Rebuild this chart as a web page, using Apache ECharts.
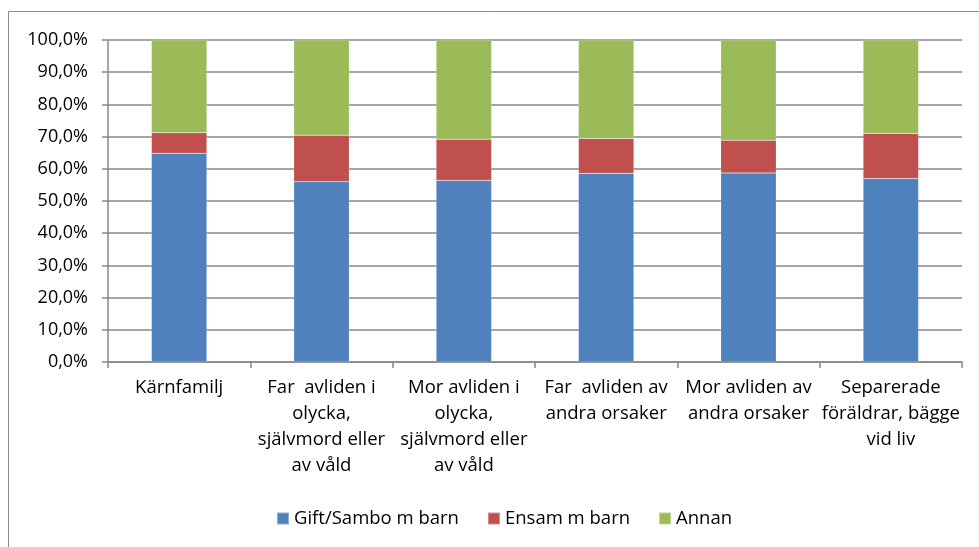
<!DOCTYPE html>
<html>
<head>
<meta charset="utf-8">
<script src="https://cdn.jsdelivr.net/npm/echarts@6/dist/echarts.min.js"></script>
<style>
  html, body { margin: 0; padding: 0; background: #fff; }
  #chart { width: 979px; height: 547px; }
</style>
</head>
<body>
<div id="chart"></div>
<script>
// categories (line breaks as in the original)
const categories = [
  'Kärnfamilj',
  'Far  avliden i\nolycka,\nsjälvmord eller\nav våld',
  'Mor avliden i\nolycka,\nsjälvmord eller\nav våld',
  'Far  avliden av\nandra orsaker',
  'Mor avliden av\nandra orsaker',
  'Separerade\nföräldrar, bägge\nvid liv'
]
const seriesNames = ['Gift/Sambo m barn', 'Ensam m barn', 'Annan']
// percent values
const giftSambo = [64.8, 56.0, 56.4, 58.6, 58.7, 57.0]
const ensam = [6.4, 14.4, 12.8, 10.8, 10.2, 14.0]
const annan = [28.8, 29.6, 30.8, 30.6, 31.1, 29.0]
const yTicks = { min: 0, max: 100, interval: 10 }

const colors = ['#4F81BD', '#C0504D', '#9BBB59']
const font = '"Open Sans", "Noto Sans", sans-serif'

const chart = echarts.init(document.getElementById('chart'))

const makeSeries = (name, data, i) => ({
  name: name,
  type: 'bar',
  stack: 'total',
  barWidth: '39%',
  data: data,
  itemStyle: {
    color: colors[i],
    borderColor: 'rgba(255,255,255,0.35)',
    borderWidth: 0.5
  }
})

const option = {
  animation: false,
  textStyle: { fontFamily: font },
  graphic: [
    {
      type: 'rect',
      shape: { x: 8.5, y: 11.5, width: 1100, height: 1100 },
      style: { fill: 'none', stroke: '#8c8c8c', lineWidth: 1 },
      silent: true
    }
  ],
  grid: {
    left: 108,
    right: 17,
    top: 40,
    bottom: 185
  },
  legend: {
    top: 504,
    left: 271,
    itemWidth: 12,
    itemHeight: 12,
    itemGap: 28,
    icon: 'rect',
    textStyle: { fontSize: 18.5, color: '#000', fontFamily: font },
    data: seriesNames
  },
  xAxis: {
    type: 'category',
    data: categories,
    axisLine: { show: true, lineStyle: { color: '#888', width: 1.5 } },
    axisTick: { show: true, alignWithLabel: false, length: 6, lineStyle: { color: '#888', width: 1.5 } },
    axisLabel: {
      color: '#000',
      fontSize: 18.5,
      lineHeight: 26,
      margin: 13,
      interval: 0,
      align: 'center'
    }
  },
  yAxis: {
    type: 'value',
    min: yTicks.min,
    max: yTicks.max,
    interval: yTicks.interval,
    axisLine: { show: true, lineStyle: { color: '#888', width: 1.5 } },
    axisTick: { show: true, length: 6, lineStyle: { color: '#888', width: 1.5 } },
    splitLine: { show: true, lineStyle: { color: '#888', width: 1.5 } },
    axisLabel: {
      color: '#000',
      fontSize: 18,
      margin: 20,
      formatter: v => v.toFixed(1).replace('.', ',') + '%'
    }
  },
  series: [
    makeSeries(seriesNames[0], giftSambo, 0),
    makeSeries(seriesNames[1], ensam, 1),
    makeSeries(seriesNames[2], annan, 2)
  ]
}

chart.setOption(option)
</script>
</body>
</html>
